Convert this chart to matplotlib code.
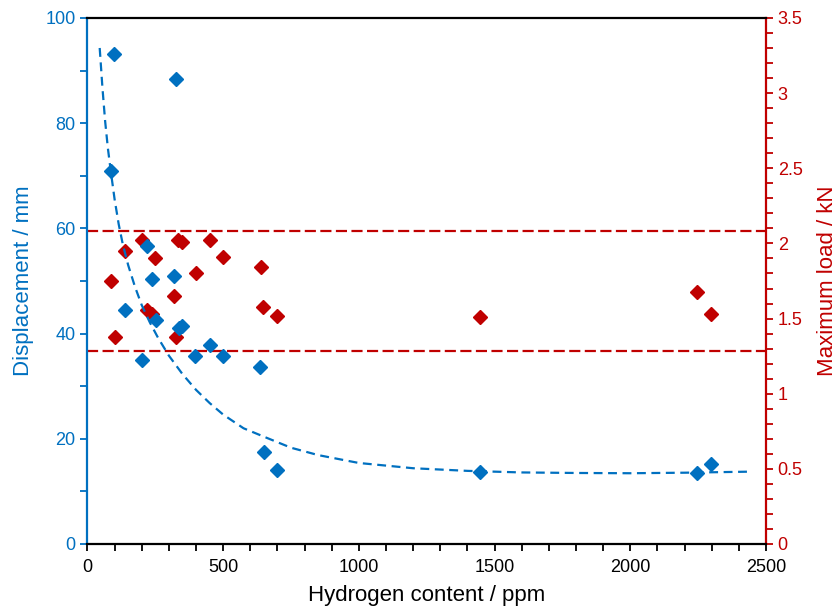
import matplotlib
matplotlib.use("Agg")
import matplotlib.pyplot as plt
from matplotlib.ticker import MultipleLocator

plt.rcParams['font.family'] = ['Liberation Sans', 'DejaVu Sans']

# Displacement (left axis)
blue_x = [99, 326, 87, 219, 238, 320, 139, 252, 336, 348, 450, 201, 397, 636, 498, 650, 699, 1446, 2247, 2298]
blue_y = [93.2, 88.4, 70.9, 56.7, 50.3, 51.0, 44.5, 42.5, 41.1, 41.4, 37.8, 34.9, 35.8, 33.6, 35.8, 17.5, 14.0, 13.7, 13.4, 15.3]

# Maximum load (right axis)
red_x = [200, 335, 350, 450, 139, 250, 400, 87, 320, 219, 238, 327, 100, 500, 638, 648, 699, 2247, 2296, 1447]
red_y = [2.02, 2.02, 2.01, 2.02, 1.95, 1.90, 1.80, 1.75, 1.65, 1.56, 1.53, 1.38, 1.38, 1.91, 1.84, 1.58, 1.52, 1.68, 1.53, 1.51]

# Trend curve for displacement
fit_x = [45, 55, 65, 75, 86, 100, 115, 130, 150, 175, 200, 230, 260, 300, 350, 400, 450, 500,
         575, 650, 750, 850, 1000, 1200, 1400, 1600, 1800, 2000, 2200, 2441]
fit_y = [94.3, 86.8, 80.4, 75.3, 70.8, 65.5, 60.8, 57.0, 53.0, 48.9, 45.4, 42.1, 39.2, 35.8, 32.3, 29.3, 26.8, 24.6,
         22.0, 20.4, 18.3, 16.9, 15.4, 14.4, 13.9, 13.6, 13.5, 13.45, 13.55, 13.75]

# Load band limits (right axis)
load_band = [2.08, 1.285]

BLUE = '#0070C0'
RED = '#C00000'

fig = plt.figure(figsize=(8.38, 6.08), dpi=100)
ax = fig.add_axes([0.1044, 0.1053, 0.8096, 0.8651])
ax2 = ax.twinx()
ax.set_zorder(ax2.get_zorder() + 1)
ax.patch.set_visible(False)

for y in load_band:
    ax2.axhline(y, color=RED, lw=1.6, ls=(0, (5, 2)))
ax2.plot(red_x, red_y, ls='none', marker='D', ms=7.5, color=RED, mec=RED)

ax.plot(fit_x, fit_y, color=BLUE, lw=1.6, ls=(0, (4, 2.5)))
ax.plot(blue_x, blue_y, ls='none', marker='D', ms=7.5, color=BLUE, mec=BLUE)

ax.set_xlim(0, 2500)
ax.set_ylim(0, 100)
ax2.set_ylim(0, 3.5)

ax.xaxis.set_major_locator(MultipleLocator(500))
ax.xaxis.set_minor_locator(MultipleLocator(100))
ax.yaxis.set_major_locator(MultipleLocator(20))
ax.yaxis.set_minor_locator(MultipleLocator(10))
ax2.yaxis.set_major_locator(MultipleLocator(0.5))
ax2.yaxis.set_minor_locator(MultipleLocator(0.1))
ax2.yaxis.set_major_formatter(plt.FuncFormatter(lambda v, p: ('%g' % v)))

for a in (ax, ax2):
    for s in a.spines.values():
        s.set_linewidth(1.6)
ax.spines['right'].set_visible(False)
ax.spines['left'].set_color(BLUE)
ax.spines['top'].set_color('black')
ax.spines['bottom'].set_color('black')
ax2.spines['left'].set_visible(False)
ax2.spines['top'].set_visible(False)
ax2.spines['bottom'].set_visible(False)
ax2.spines['right'].set_color(RED)

ax.tick_params(axis='x', which='major', direction='out', length=5, width=1.3, colors='black', labelsize=13, pad=6)
ax.tick_params(axis='x', which='minor', direction='out', length=5, width=1.3, colors='black')
ax.tick_params(axis='y', which='both', direction='out', length=5, width=1.3, colors=BLUE, labelsize=13)
ax2.tick_params(axis='y', which='both', direction='out', length=5, width=1.3, colors=RED, labelsize=13)
ax.tick_params(axis='x', labelcolor='black')

ax.set_xlabel('Hydrogen content / ppm', fontsize=16, color='black', labelpad=6)
ax.set_ylabel('Displacement / mm', fontsize=16, color=BLUE, labelpad=8)
ax2.set_ylabel('Maximum load / kN', fontsize=16, color=RED, labelpad=10)

fig.savefig('out.png', dpi=100)
